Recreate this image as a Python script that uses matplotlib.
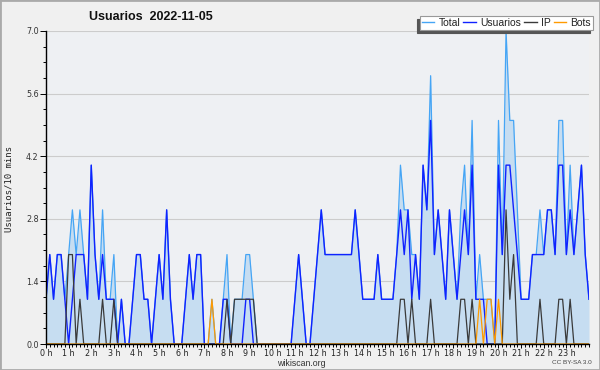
import matplotlib
matplotlib.use('Agg')
import matplotlib.pyplot as plt
from matplotlib.lines import Line2D
from matplotlib.patches import Rectangle
from matplotlib.ticker import MultipleLocator, FixedLocator
import numpy as np

# ---- data (10-minute steps, 00:00 .. 24:00) ----
total = [1,2,1,2,2,1,2,3,2,3, 2,1,4,2,1,3,1,1,2,0,
         1,0,0,1,2,2,1,1,0,1, 2,1,3,1,0,0,0,1,2,1,
         2,2,0,0,1,0,0,1,2,0, 1,1,1,2,2,1,0,0,0,0,
         0,0,0,0,0,0,1,2,1,0, 0,1,2,3,2,2,2,2,2,2,
         2,2,3,2,1,1,1,1,2,1, 1,1,1,2,4,3,3,2,2,1,
         4,3,6,2,3,2,1,3,2,1, 3,4,2,5,1,2,1,1,1,0,
         5,2,7,5,5,3,1,1,1,2, 2,3,2,3,3,2,5,5,2,4,
         2,3,4,2,1]
usuarios = [1,2,1,2,2,1,0,1,2,2, 2,1,4,2,1,2,1,1,1,0,
            1,0,0,1,2,2,1,1,0,1, 2,1,3,1,0,0,0,1,2,1,
            2,2,0,0,0,0,0,1,1,0, 0,0,0,1,1,0,0,0,0,0,
            0,0,0,0,0,0,1,2,1,0, 0,1,2,3,2,2,2,2,2,2,
            2,2,3,2,1,1,1,1,2,1, 1,1,1,2,3,2,3,1,2,1,
            4,3,5,2,3,2,1,3,2,1, 2,3,2,4,1,1,1,0,0,0,
            4,2,4,4,3,2,1,1,1,2, 2,2,2,3,3,2,4,4,2,3,
            2,3,4,2,1]
ip = [0,0,0,0,0,0,2,2,0,1, 0,0,0,0,0,1,0,0,1,0,
      0,0,0,0,0,0,0,0,0,0, 0,0,0,0,0,0,0,0,0,0,
      0,0,0,0,0,0,0,0,1,0, 1,1,1,1,1,1,0,0,0,0,
      0,0,0,0,0,0,0,0,0,0, 0,0,0,0,0,0,0,0,0,0,
      0,0,0,0,0,0,0,0,0,0, 0,0,0,0,1,1,0,1,0,0,
      0,0,1,0,0,0,0,0,0,0, 1,1,0,1,0,0,0,0,0,0,
      0,0,3,1,2,0,0,0,0,0, 0,1,0,0,0,0,1,1,0,1,
      0,0,0,0,0]
bots = [0,0,0,0,0,0,0,0,0,0, 0,0,0,0,0,0,0,0,0,0,
        0,0,0,0,0,0,0,0,0,0, 0,0,0,0,0,0,0,0,0,0,
        0,0,0,0,1,0,0,0,0,0, 0,0,0,0,0,0,0,0,0,0,
        0,0,0,0,0,0,0,0,0,0, 0,0,0,0,0,0,0,0,0,0,
        0,0,0,0,0,0,0,0,0,0, 0,0,0,0,0,0,0,0,0,0,
        0,0,0,0,0,0,0,0,0,0, 0,0,0,0,0,1,0,1,1,0,
        1,0,0,0,0,0,0,0,0,0, 0,0,0,0,0,0,0,0,0,0,
        0,0,0,0,0]
hour_labels = ["%d h" % h for h in range(24)]
y_ticks = [0.0, 1.4, 2.8, 4.2, 5.6, 7.0]
series_names = ["Total", "Usuarios", "IP", "Bots"]
title = "Usuarios  2022-11-05"

c_total = '#45a5f5'
c_fill = '#c6ddf1'
c_user = '#1022ff'
c_ip = '#3a3a3a'
c_bots = '#ff9a00'

fig = plt.figure(figsize=(6, 3.7), dpi=100)
fig.patch.set_facecolor('#f0f0f0')
ax = fig.add_axes([46/600, 26/370, 543/600, 313/370])
ax.set_facecolor('#eef0f3')

x = np.arange(len(total))
ax.fill_between(x, 0, total, color=c_fill, lw=0, zorder=1.5)
ax.plot(x, total, color=c_total, lw=0.9, zorder=2)
ax.plot(x, usuarios, color=c_user, lw=1.0, zorder=2.1)
ax.plot(x, ip, color=c_ip, lw=0.9, zorder=2.2)
ax.plot(x, bots, color=c_bots, lw=0.9, zorder=2.3)

ax.set_xlim(0, len(total) - 1)
ax.set_ylim(0, 7)
ax.xaxis.set_major_locator(FixedLocator(np.arange(24) * 6))
ax.set_xticklabels(hour_labels)
ax.xaxis.set_minor_locator(MultipleLocator(1))
ax.set_yticks(y_ticks)
ax.set_yticklabels(["%.1f" % v for v in y_ticks])
ax.yaxis.set_minor_locator(MultipleLocator(0.35))

ax.yaxis.grid(True, color='#cccccc', lw=0.8)
ax.set_axisbelow(True)
for s in ['top', 'right']:
    ax.spines[s].set_visible(False)
for s in ['left', 'bottom']:
    ax.spines[s].set_color('black')
    ax.spines[s].set_linewidth(1.0)
    ax.spines[s].set_zorder(3)

ax.tick_params(axis='x', which='major', length=3.2, width=0.7, pad=0.3, labelsize=5.8, labelcolor='#222')
ax.tick_params(axis='x', which='minor', length=2.3, width=0.7)
ax.tick_params(axis='y', which='major', length=4.3, width=0.7, pad=1, labelsize=5.8, labelcolor='#333')
ax.tick_params(axis='y', which='minor', length=2.2, width=0.7)

fig.text(151/600, 1 - 17/370, title, ha='center', va='center', fontsize=9,
         fontweight='bold', family='Liberation Sans', color='#111')
fig.text(9/600, 1 - 189/370, 'Usuarios/10 mins', rotation=90, ha='center', va='center',
         family='DejaVu Sans Mono', fontsize=6.5, color='#222')
fig.text(301/600, 1 - 363.5/370, 'wikiscan.org', ha='center', va='center', fontsize=6.3,
         family='Liberation Sans', color='#333')
fig.text(572/600, 1 - 363/370, 'CC BY-SA 3.0', ha='center', va='center', fontsize=4.6,
         family='Liberation Sans', color='#444')

handles = [Line2D([], [], color=c, lw=1.0) for c in [c_total, c_user, c_ip, c_bots]]
leg = fig.legend(handles, series_names, loc='upper right',
                 bbox_to_anchor=(593/600, 1 - 16/370), bbox_transform=fig.transFigure,
                 ncol=4, handlelength=1.2, handletextpad=0.4,
                 columnspacing=0.3, borderpad=0.2, borderaxespad=0, fancybox=False,
                 framealpha=1, edgecolor='#999999',
                 prop={'family': 'Liberation Sans', 'size': 7.5},
                 shadow={'ox': -2, 'oy': -2, 'facecolor': '#555555', 'edgecolor': '#555555', 'alpha': 1})
leg.get_frame().set_linewidth(0.8)
for t in leg.get_texts():
    t.set_color('#222')

fig.add_artist(Rectangle((0, 0), 1, 1, transform=fig.transFigure, fill=False,
                         edgecolor='#aaaaaa', lw=2))

fig.savefig('out.png', dpi=100, facecolor=fig.get_facecolor())
